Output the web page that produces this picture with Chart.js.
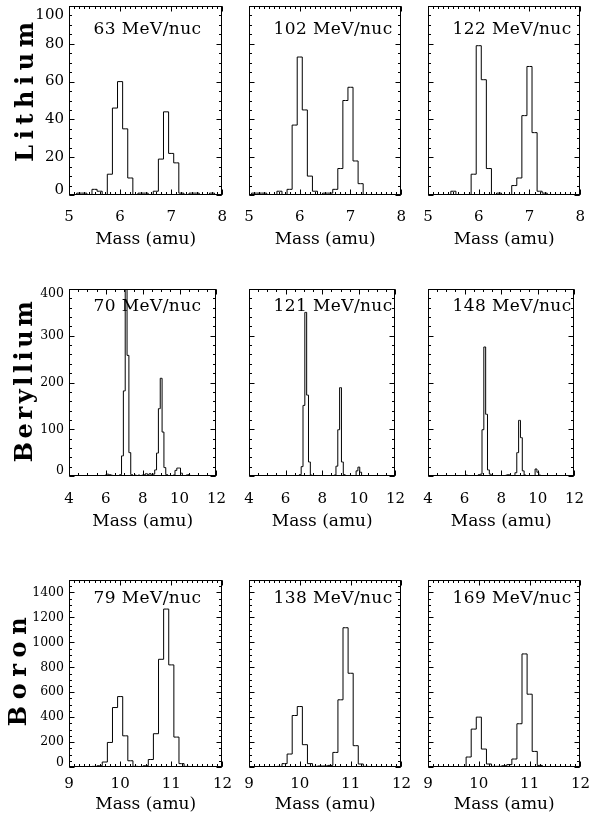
<!DOCTYPE html>
<html><head><meta charset="utf-8">
<script src="https://cdn.jsdelivr.net/npm/chart.js@4.4.1/dist/chart.umd.min.js"></script>
<style>
html,body{margin:0;padding:0;background:#fff;}
#page{position:relative;width:598px;height:831px;overflow:hidden;background:#fff;}
#page canvas{position:absolute;}
</style></head><body><div id="page"></div>
<script>
// ---------- data (bin centres in amu, counts per bin) ----------
const massLi = [5.0,5.1,5.2,5.3,5.4,5.5,5.6,5.7,5.8,5.9,6.0,6.1,6.2,6.3,6.4,6.5,6.6,6.7,6.8,6.9,7.0,7.1,7.2,7.3,7.4,7.5,7.6,7.7,7.8,7.9,8.0];
const li63  = [0,0,1,1,0, 3,2,0,11,46, 60,35,9,0,1, 1,0,2,19,44, 22,17,1,0,1, 1,0,0,1,0, 0];
const li102 = [0,1,1,1,0, 0,2,0,3,37, 73,45,10,2,0, 1,1,3,14,50, 57,18,6,0,0, 0,0,0,0,0, 0];
const li122 = [0,0,0,0,0, 2,0,0,0,11, 79,61,14,0,1, 0,0,5,9,42, 68,33,2,1,0, 0,0,0,0,0, 0];

const massBe = [4.0,4.1,4.2,4.3,4.4,4.5,4.6,4.7,4.8,4.9,
                5.0,5.1,5.2,5.3,5.4,5.5,5.6,5.7,5.8,5.9,
                6.0,6.1,6.2,6.3,6.4,6.5,6.6,6.7,6.8,6.9,
                7.0,7.1,7.2,7.3,7.4,7.5,7.6,7.7,7.8,7.9,
                8.0,8.1,8.2,8.3,8.4,8.5,8.6,8.7,8.8,8.9,
                9.0,9.1,9.2,9.3,9.4,9.5,9.6,9.7,9.8,9.9,
                10.0,10.1,10.2,10.3,10.4,10.5,10.6,10.7,10.8,10.9,
                11.0,11.1,11.2,11.3,11.4,11.5,11.6,11.7,11.8,11.9,12.0];
const be70  = [0,0,0,0,0,0,0,0,0,0,
               0,0,0,0,0,0,0,0,0,0,
               2,4,3,2,1,0,1,0,3,43,
               182,520,258,50,3,0,2,1,2,1,
               2,3,5,3,5,2,4,13,49,144,
               209,94,18,3,1,1,0,2,12,17,
               17,6,1,0,2,3,1,0,0,0,
               0,0,0,0,0,0,0,0,0,0,0];
const be121 = [0,0,0,0,0,0,0,0,0,0,
               0,0,0,0,0,0,0,0,0,0,
               0,0,1,0,0,0,0,0,3,20,
               151,350,173,30,2,0,0,0,0,0,
               0,0,0,0,1,0,0,2,21,99,
               189,30,3,0,0,0,0,0,0,11,
               19,8,1,0,0,0,1,0,0,0,
               0,0,0,0,0,0,0,0,0,0,0];
const be148 = [0,0,0,0,0,0,0,0,0,0,
               0,0,0,0,0,0,0,0,0,0,
               1,2,0,0,0,0,0,0,3,4,
               99,276,132,13,4,0,0,0,0,0,
               0,0,0,2,3,1,0,0,7,50,
               119,82,11,2,0,0,0,0,0,15,
               8,2,0,0,0,0,0,0,0,0,
               0,0,0,0,0,0,0,0,0,0,0];

const massB = [9.0,9.1,9.2,9.3,9.4,9.5,9.6,9.7,9.8,9.9,10.0,10.1,10.2,10.3,10.4,10.5,10.6,10.7,10.8,10.9,11.0,11.1,11.2,11.3,11.4,11.5,11.6,11.7,11.8,11.9,12.0];
const b79  = [0,2,2,3,3, 5,10,40,197,477, 565,250,50,5,2, 10,60,267,864,1267, 819,240,27,5,2, 0,0,0,0,0, 0];
const b138 = [0,0,0,0,3, 3,5,27,104,413, 485,179,27,5,8, 8,13,117,539,1117, 752,171,24,5,0, 0,0,0,0,0, 0];
const b169 = [0,0,0,0,0, 0,0,3,80,304, 400,144,24,5,5, 10,19,64,347,907, 584,125,13,2,0, 0,0,0,0,0, 0];

const elements = ['Lithium', 'Beryllium', 'Boron'];
const energyLabels = [
  ['63 MeV/nuc', '102 MeV/nuc', '122 MeV/nuc'],
  ['70 MeV/nuc', '121 MeV/nuc', '148 MeV/nuc'],
  ['79 MeV/nuc', '138 MeV/nuc', '169 MeV/nuc']
];
const xTitle = 'Mass (amu)';
const seriesGrid = [
  [{mass: massLi, counts: li63}, {mass: massLi, counts: li102}, {mass: massLi, counts: li122}],
  [{mass: massBe, counts: be70}, {mass: massBe, counts: be121}, {mass: massBe, counts: be148}],
  [{mass: massB,  counts: b79},  {mass: massB,  counts: b138},  {mass: massB,  counts: b169}]
];

// ---------- axes ranges ----------
const axisRanges = [
  {xMin: 5, xMax: 8,  xStep: 1, xMinor: 0.1, yMin: 0, yMax: 100,  yStep: 20,  yMinor: 5},
  {xMin: 4, xMax: 12, xStep: 2, xMinor: 0.5, yMin: 0, yMax: 400,  yStep: 100, yMinor: 20},
  {xMin: 9, xMax: 12, xStep: 1, xMinor: 0.1, yMin: 0, yMax: 1500, yStep: 200, yMinor: 50}
];

// ---------- layout / style ----------
const FONT = 'DejaVu Serif';
Chart.defaults.font.family = FONT;
Chart.defaults.color = '#000';
const cols = [{left: 69, right: 228}, {left: 249, right: 407}, {left: 428, right: 586}];
const rowStyle = [
  {top: 6,   bottom: 195, xTickPad: 13, xTitlePad: 7,  yTickSize: 15,   yTickLH: 0.6,  topLines: 3, titleX: 27,   ySpacing: 5.6, titleShift: 11.5, labelDy: 23.5},
  {top: 289, bottom: 476, xTickPad: 14, xTitlePad: 6,  yTickSize: 12.5, yTickLH: 0.8,  topLines: 2, titleX: 26,   ySpacing: 3.6, titleShift: 2.5,  labelDy: 18},
  {top: 580, bottom: 767, xTickPad: 8,  xTitlePad: 14, yTickSize: 12.5, yTickLH: 0.72, topLines: 2, titleX: 19.5, ySpacing: 6.6, titleShift: 5,    labelDy: 19}
];
const PADT = 14, PADR = 12, YW = 70, XH = 62, TITLE_SIZE = 24, TITLE_LH = 4;

const deco = {
  id: 'deco',
  beforeDraw(chart, args, o) {
    chart.ctx.letterSpacing = o.titleSpacing + 'px';
  },
  beforeDatasetsDraw(chart, args, o) {
    const ctx = chart.ctx, a = chart.chartArea;
    ctx.letterSpacing = '0px';
    ctx.save();
    ctx.letterSpacing = '0.4px';
    ctx.font = '17px "' + FONT + '"';
    ctx.fillStyle = '#000';
    ctx.textAlign = 'left';
    ctx.textBaseline = 'middle';
    ctx.fillText(o.label, a.left + 24.5, a.top + o.labelDy);
    ctx.restore();
    ctx.letterSpacing = '0px';
  },
  afterDraw(chart, args, o) {
    const ctx = chart.ctx, a = chart.chartArea, x = chart.scales.x, y = chart.scales.y;
    ctx.save();
    ctx.letterSpacing = '0px';
    ctx.strokeStyle = '#000';
    ctx.lineWidth = 1;
    const L = Math.round(a.left) + 0.5, R = Math.round(a.right) - 0.5;
    const T = Math.round(a.top) + 0.5, B = Math.round(a.bottom) - 0.5;
    ctx.strokeRect(L, T, R - L, B - T);
    ctx.beginPath();
    const maj = 5, mnr = 2.5;
    function xt(v, len) { const p = Math.round(x.getPixelForValue(v)) + 0.5; ctx.moveTo(p, B); ctx.lineTo(p, B - len); ctx.moveTo(p, T); ctx.lineTo(p, T + len); }
    function yt(v, len) { const p = Math.round(y.getPixelForValue(v)) + 0.5; ctx.moveTo(L, p); ctx.lineTo(L + len, p); ctx.moveTo(R, p); ctx.lineTo(R - len, p); }
    const nx = Math.round((x.max - x.min) / o.xMinor);
    for (let i = 0; i <= nx; i++) xt(x.min + i * o.xMinor, mnr);
    const ny = Math.round((y.max - y.min) / o.yMinor);
    for (let i = 0; i <= ny; i++) yt(y.min + i * o.yMinor, mnr);
    x.ticks.forEach(t => xt(t.value, maj));
    y.ticks.forEach(t => yt(t.value, maj));
    ctx.stroke();
    ctx.restore();
  }
};

const page = document.getElementById('page');
for (let r = 0; r < 3; r++) {
  for (let c = 0; c < 3; c++) {
    const rs = rowStyle[r], cs = cols[c], ax = axisRanges[r], s = seriesGrid[r][c];
    const first = c === 0;
    // a blank top spacer lets the full-height y title sit off-centre like the original
    const topSpace = XH + 2 * rs.titleShift;
    const canvasLeft = cs.left - YW;
    const titleCx = rs.titleX - canvasLeft;            // title centre inside canvas
    const titlePad = titleCx - TITLE_LH / 2;
    const titleW = first ? titlePad + TITLE_LH : 0;
    const w = (cs.right - cs.left) + YW + PADR;
    const h = (rs.bottom - rs.top) + PADT + topSpace + XH;
    const cv = document.createElement('canvas');
    cv.width = w; cv.height = h;
    cv.style.width = w + 'px'; cv.style.height = h + 'px';
    cv.style.left = canvasLeft + 'px';
    cv.style.top = (rs.top - PADT - topSpace) + 'px';
    page.appendChild(cv);
    new Chart(cv, {
      type: 'line',
      data: {
        datasets: [{
          data: s.mass.map((m, i) => ({x: m, y: s.counts[i]})),
          stepped: 'middle',
          borderColor: '#000',
          borderWidth: 1,
          pointRadius: 0,
          fill: false
        }]
      },
      options: {
        responsive: false,
        animation: false,
        devicePixelRatio: 1,
        events: [],
        layout: {padding: {left: 0, top: PADT, right: PADR, bottom: 0}},
        plugins: {
          legend: {display: false},
          tooltip: {enabled: false},
          title: {display: first, text: elements[r], position: 'left', fullSize: true,
                  color: '#000', font: {size: TITLE_SIZE, weight: 'bold', lineHeight: TITLE_LH / TITLE_SIZE},
                  padding: {top: titlePad, bottom: 0}},
          deco: {label: energyLabels[r][c], labelDy: rs.labelDy, titleSpacing: rs.ySpacing,
                 xMinor: ax.xMinor, yMinor: ax.yMinor}
        },
        scales: {
          x: {
            type: 'linear', min: ax.xMin, max: ax.xMax,
            afterFit(sc) { sc.height = XH; },
            grid: {display: false, drawTicks: false, z: 1},
            border: {display: false},
            ticks: {stepSize: ax.xStep, autoSkip: false, maxRotation: 0, padding: rs.xTickPad,
                    font: {size: 15}, color: '#000', z: 1},
            title: {display: true, text: xTitle, color: '#000', font: {size: 17},
                    padding: {top: 0, bottom: rs.xTitlePad}}
          },
          xTop: {
            type: 'linear', position: 'top', min: ax.xMin, max: ax.xMax,
            afterFit(sc) { sc.height = topSpace; },
            grid: {display: false, drawTicks: false},
            border: {display: false},
            ticks: {display: false},
            title: {display: false}
          },
          y: {
            type: 'linear', min: ax.yMin, max: ax.yMax,
            afterFit(sc) { sc.width = YW - titleW; },
            grid: {display: false, drawTicks: false},
            border: {display: false},
            ticks: {
              display: first, stepSize: ax.yStep, includeBounds: false, padding: 5,
              font: {size: rs.yTickSize, lineHeight: rs.yTickLH}, color: '#000', z: 1,
              callback: function(v) {
                const t = String(v);
                if (v === ax.yMin) return [t, ''];
                if (v === ax.yMax) return rs.topLines === 3 ? ['', '', t] : ['', t];
                return t;
              }
            }
          }
        }
      },
      plugins: [deco]
    });
  }
}
</script>
</body></html>
